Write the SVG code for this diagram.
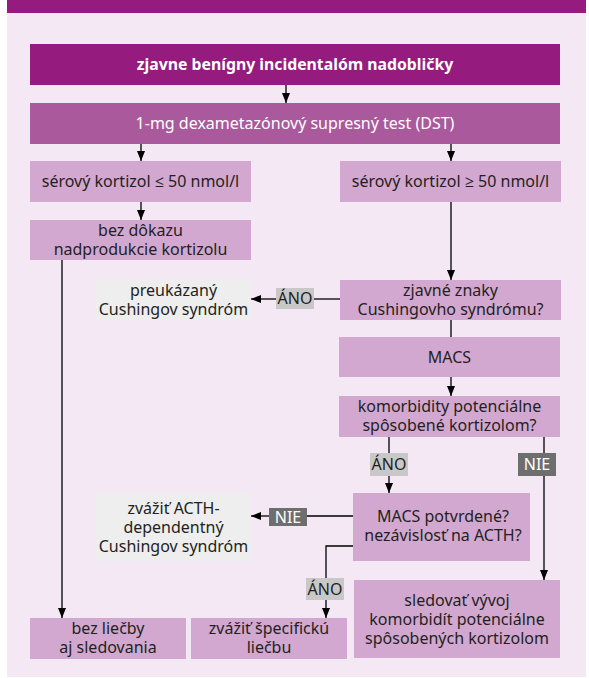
<svg xmlns="http://www.w3.org/2000/svg" width="589" height="678" viewBox="0 0 589 678">
<defs>
<marker id="ah" markerUnits="userSpaceOnUse" markerWidth="10" markerHeight="10" viewBox="0 0 10 10" refX="10" refY="5" orient="auto">
<path d="M0,1 L10,5 L0,9 Z" fill="#000"/>
</marker>
<style>
text{font-family:"Noto Sans","Open Sans","DejaVu Sans",sans-serif;font-size:16px;text-anchor:middle;fill:#231f20}
.dark{fill:#951b7e}
.mid{fill:#aa5a9c}
.light{fill:#d2a8d1}
.grey{fill:#eeeeee}
.w{fill:#ffffff}
.b{font-weight:bold;font-size:15.8px}
.ano{fill:#c8c8c8}
.nie{fill:#6e6e6e}
.ln{stroke:#000;stroke-width:1.3;fill:none}
.arr{marker-end:url(#ah)}
</style>
</defs>
<rect x="7" y="0" width="579" height="13" class="dark"/>
<rect x="7" y="13" width="579" height="664" fill="#f4e8f5"/>

<g id="connectors">
<line x1="286" y1="85" x2="286" y2="103" class="ln arr"/>
<line x1="141" y1="144" x2="141" y2="161" class="ln arr"/>
<line x1="451" y1="144" x2="451" y2="161" class="ln arr"/>
<line x1="141" y1="202" x2="141" y2="220" class="ln arr"/>
<line x1="451" y1="202" x2="451" y2="280" class="ln arr"/>
<line x1="451" y1="320" x2="451" y2="337" class="ln"/>
<line x1="451" y1="377" x2="451" y2="396" class="ln arr"/>
<line x1="340" y1="299" x2="314" y2="299" class="ln"/>
<line x1="276" y1="299" x2="251" y2="299" class="ln arr"/>
<line x1="389" y1="437" x2="389" y2="493" class="ln arr"/>
<line x1="544" y1="437" x2="544" y2="580" class="ln arr"/>
<line x1="353" y1="516" x2="307" y2="516" class="ln"/>
<line x1="269" y1="516" x2="251" y2="516" class="ln arr"/>
<polyline points="353,546 326,546 326,618" class="ln arr"/>
<line x1="62" y1="260" x2="62" y2="618" class="ln arr"/>
<g id="lbl-ano1"><rect x="276" y="288" width="38" height="21" class="ano"/><text x="295" y="304">ÁNO</text></g>
<g id="lbl-ano2"><rect x="370" y="453" width="38" height="23" class="ano"/><text x="389" y="470">ÁNO</text></g>
<g id="lbl-nie1"><rect x="518" y="453" width="38" height="23" class="nie"/><text x="537" y="470" class="w">NIE</text></g>
<g id="lbl-nie2"><rect x="269" y="508" width="38" height="18" class="nie"/><text x="288" y="522.5" class="w">NIE</text></g>
<g id="lbl-ano3"><rect x="306" y="578" width="38" height="22" class="ano"/><text x="325" y="594.5">ÁNO</text></g>
</g>

<g id="n-incidentalom"><rect x="30" y="44" width="530" height="41" class="dark"/><text x="295" y="70" class="w b">zjavne benígny incidentalóm nadobličky</text></g>
<g id="n-dst"><rect x="30" y="103" width="530" height="41" class="mid"/><text x="295" y="129" class="w">1-mg dexametazónový supresný test (DST)</text></g>
<g id="n-low"><rect x="30" y="161" width="221" height="41" class="light"/><text x="140.5" y="187">sérový kortizol ≤ 50 nmol/l</text></g>
<g id="n-high"><rect x="340" y="161" width="221" height="41" class="light"/><text x="450.5" y="187">sérový kortizol ≥ 50 nmol/l</text></g>
<g id="n-nodk"><rect x="30" y="220" width="221" height="40" class="light"/><text x="140.5" y="236">bez dôkazu</text><text x="140.5" y="255">nadprodukcie kortizolu</text></g>
<g id="n-cush"><rect x="96" y="279" width="155" height="41" class="grey"/><text x="173.5" y="295.5">preukázaný</text><text x="173.5" y="314.5">Cushingov syndróm</text></g>
<g id="n-znaky"><rect x="340" y="280" width="221" height="40" class="light"/><text x="450.5" y="296">zjavné znaky</text><text x="450.5" y="315">Cushingovho syndrómu?</text></g>
<g id="n-macs"><rect x="339" y="337" width="221" height="40" class="light"/><text x="449.5" y="362.5">MACS</text></g>
<g id="n-komorb"><rect x="339" y="396" width="221" height="41" class="light"/><text x="449.5" y="412">komorbidity potenciálne</text><text x="449.5" y="431">spôsobené kortizolom?</text></g>
<g id="n-acth"><rect x="96" y="493" width="155" height="68" class="grey"/><text x="173.5" y="513.5">zvážiť ACTH-</text><text x="173.5" y="532.5">dependentný</text><text x="173.5" y="551.5">Cushingov syndróm</text></g>
<g id="n-macsconf"><rect x="353" y="493" width="177" height="68" class="light"/><text x="443" y="522">MACS potvrdené?</text><text x="443" y="541">nezávislosť na ACTH?</text></g>
<g id="n-sledovat"><rect x="354" y="580" width="206" height="78" class="light"/><text x="457" y="605.5">sledovať vývoj</text><text x="457" y="624.5">komorbidít potenciálne</text><text x="457" y="643.5">spôsobených kortizolom</text></g>
<g id="n-bezliecby"><rect x="30" y="618" width="156" height="41" class="light"/><text x="108" y="633.5">bez liečby</text><text x="108" y="652.5">aj sledovania</text></g>
<g id="n-specif"><rect x="191" y="618" width="156" height="41" class="light"/><text x="269" y="633.5">zvážiť špecifickú</text><text x="269" y="652.5">liečbu</text></g>
</svg>
